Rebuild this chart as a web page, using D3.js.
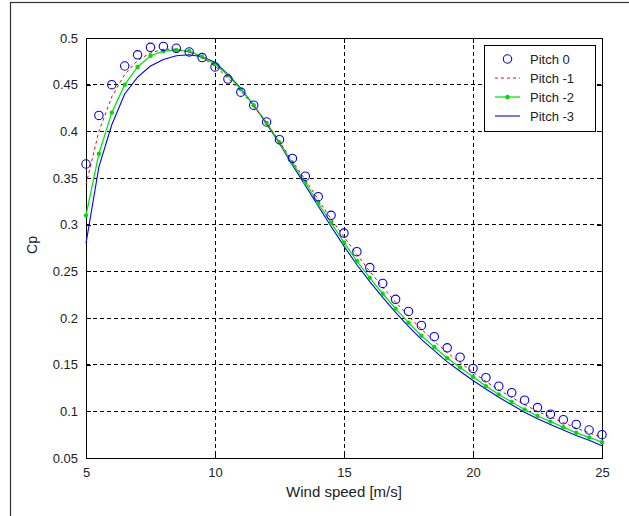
<!DOCTYPE html>
<html>
<head>
<meta charset="utf-8">
<script src="https://cdn.jsdelivr.net/npm/d3@7/dist/d3.min.js"></script>
<style>
  html, body { margin: 0; padding: 0; background: #fff; }
  svg { display: block; }
  text { font-family: "Liberation Sans", Arial, Helvetica, sans-serif; fill: #222; }
</style>
</head>
<body>
<svg id="chart" width="629" height="516"></svg>
<script>
// Wind speed samples (m/s)
const windSpeed = [5, 5.5, 6, 6.5, 7, 7.5, 8, 8.5, 9, 9.5,
  10, 10.5, 11, 11.5, 12, 12.5, 13, 13.5, 14, 14.5, 15,
  15.5, 16, 16.5, 17, 17.5, 18, 18.5, 19, 19.5, 20,
  20.5, 21, 21.5, 22, 22.5, 23, 23.5, 24, 24.5, 25];

// Power coefficient Cp for each pitch angle
const pitch0 = [0.365, 0.417, 0.450, 0.470, 0.482, 0.490, 0.491, 0.489, 0.485, 0.479,
  0.469, 0.456, 0.442, 0.428, 0.410, 0.391, 0.371, 0.352, 0.330, 0.310, 0.291,
  0.271, 0.254, 0.237, 0.220, 0.207, 0.192, 0.180, 0.168, 0.158, 0.146,
  0.136, 0.127, 0.120, 0.112, 0.104, 0.097, 0.091, 0.086, 0.080, 0.075];
const pitchM1 = [0.343, 0.400, 0.437, 0.461, 0.476, 0.484, 0.488, 0.488, 0.485, 0.479,
  0.470, 0.457, 0.443, 0.427, 0.409, 0.389, 0.368, 0.348, 0.327, 0.306, 0.287,
  0.268, 0.250, 0.233, 0.217, 0.202, 0.188, 0.175, 0.163, 0.152, 0.142,
  0.132, 0.123, 0.115, 0.107, 0.100, 0.094, 0.088, 0.082, 0.077, 0.072];
const pitchM2 = [0.310, 0.376, 0.420, 0.450, 0.469, 0.481, 0.486, 0.487, 0.486, 0.480,
  0.472, 0.460, 0.445, 0.428, 0.409, 0.388, 0.366, 0.345, 0.323, 0.302, 0.281,
  0.261, 0.243, 0.226, 0.210, 0.195, 0.181, 0.169, 0.157, 0.147, 0.137,
  0.127, 0.118, 0.110, 0.102, 0.095, 0.089, 0.083, 0.077, 0.072, 0.067];
const pitchM3 = [0.280, 0.362, 0.407, 0.440, 0.458, 0.470, 0.477, 0.481, 0.482, 0.480,
  0.474, 0.461, 0.446, 0.428, 0.408, 0.387, 0.364, 0.342, 0.320, 0.298, 0.277,
  0.257, 0.239, 0.222, 0.206, 0.191, 0.177, 0.165, 0.153, 0.143, 0.133,
  0.124, 0.115, 0.107, 0.099, 0.092, 0.086, 0.080, 0.074, 0.069, 0.063];

const seriesNames = ["Pitch 0", "Pitch -1", "Pitch -2", "Pitch -3"];
const xTicks = [5, 10, 15, 20, 25];
const yTicks = [0.05, 0.1, 0.15, 0.2, 0.25, 0.3, 0.35, 0.4, 0.45, 0.5];
const yTickLabels = ["0.05", "0.1", "0.15", "0.2", "0.25", "0.3", "0.35", "0.4", "0.45", "0.5"];

const svg = d3.select("#chart");
const plotLeft = 86, plotRight = 602, plotTop = 38, plotBottom = 458;

// Outer figure frame
svg.append("rect")
  .attr("x", 10.5).attr("y", 2.5)
  .attr("width", 640).attr("height", 540)
  .attr("fill", "#fff").attr("stroke", "#333").attr("stroke-width", 1.2);

const x = d3.scaleLinear().domain([5, 25]).range([plotLeft, plotRight]);
const y = d3.scaleLinear().domain([0.05, 0.5]).range([plotBottom, plotTop]);

const g = svg.append("g");

// Dashed grid
g.append("g").selectAll("line").data(xTicks.slice(1, -1)).join("line")
  .attr("x1", d => x(d)).attr("x2", d => x(d))
  .attr("y1", plotTop).attr("y2", plotBottom)
  .attr("stroke", "#000").attr("stroke-width", 1).attr("stroke-dasharray", "4,3")
  .attr("shape-rendering", "crispEdges");
g.append("g").selectAll("line").data(yTicks.slice(1, -1)).join("line")
  .attr("x1", plotLeft).attr("x2", plotRight)
  .attr("y1", d => y(d)).attr("y2", d => y(d))
  .attr("stroke", "#000").attr("stroke-width", 1).attr("stroke-dasharray", "4,3")
  .attr("shape-rendering", "crispEdges");

// Axes with inward ticks on all four sides
const tickLen = 5;
const xAxisB = d3.axisBottom(x).tickValues(xTicks).tickSizeInner(-tickLen).tickSizeOuter(0).tickPadding(10);
const xAxisT = d3.axisTop(x).tickValues(xTicks).tickSizeInner(-tickLen).tickSizeOuter(0).tickFormat("");
const yAxisL = d3.axisLeft(y).tickValues(yTicks).tickSizeInner(-tickLen).tickSizeOuter(0).tickPadding(8)
  .tickFormat((d, i) => yTickLabels[i]);
const yAxisR = d3.axisRight(y).tickValues(yTicks).tickSizeInner(-tickLen).tickSizeOuter(0).tickFormat("");

function styleAxis(sel) {
  sel.selectAll("path").remove();
  sel.selectAll("line").attr("stroke", "#000").attr("shape-rendering", "crispEdges");
  sel.selectAll("text").attr("font-size", 13).attr("fill", "#222")
    .style("font-family", "'Liberation Sans', Arial, sans-serif");
}
g.append("g").attr("transform", `translate(0,${plotBottom})`).call(xAxisB).call(styleAxis);
g.append("g").attr("transform", `translate(0,${plotTop})`).call(xAxisT).call(styleAxis);
g.append("g").attr("transform", `translate(${plotLeft},0)`).call(yAxisL).call(styleAxis);
g.append("g").attr("transform", `translate(${plotRight},0)`).call(yAxisR).call(styleAxis);

// Axes box
g.append("rect")
  .attr("x", plotLeft).attr("y", plotTop).attr("width", plotRight - plotLeft).attr("height", plotBottom - plotTop)
  .attr("fill", "none").attr("stroke", "#000").attr("stroke-width", 1)
  .attr("shape-rendering", "crispEdges");

// Curves
const line = d3.line().x(d => x(d[0])).y(d => y(d[1]));
const pairs = arr => windSpeed.map((w, i) => [w, arr[i]]);
const plot = g.append("g");

plot.append("path").datum(pairs(pitchM3)).attr("d", line)
  .attr("fill", "none").attr("stroke", "#0000ff").attr("stroke-width", 1.1);
plot.append("path").datum(pairs(pitchM2)).attr("d", line)
  .attr("fill", "none").attr("stroke", "#00ee00").attr("stroke-width", 1.3);
plot.append("g").selectAll("circle").data(pairs(pitchM2)).join("circle")
  .attr("cx", d => x(d[0])).attr("cy", d => y(d[1])).attr("r", 2.2)
  .attr("fill", "#00dd00");
plot.append("path").datum(pairs(pitchM1)).attr("d", line)
  .attr("fill", "none").attr("stroke", "#ff0000").attr("stroke-width", 1)
  .attr("stroke-dasharray", "3,3");
plot.append("g").selectAll("circle").data(pairs(pitch0)).join("circle")
  .attr("cx", d => x(d[0])).attr("cy", d => y(d[1])).attr("r", 4.2)
  .attr("fill", "none").attr("stroke", "#0000ff").attr("stroke-width", 1.1);

// Axis titles
svg.append("text").attr("x", (plotLeft + plotRight) / 2).attr("y", 497)
  .attr("text-anchor", "middle").attr("font-size", 15).text("Wind speed [m/s]");
svg.append("text").attr("transform", "translate(37,245) rotate(-90)")
  .attr("text-anchor", "middle").attr("font-size", 14).text("Cp");

// Legend
const lg = svg.append("g");
lg.append("rect").attr("x", 484.5).attr("y", 45.5).attr("width", 111).attr("height", 86)
  .attr("fill", "#fff").attr("stroke", "#000").attr("stroke-width", 1);
const rowY = i => 59 + i * 19;
const sx1 = 495, sx2 = 520;
lg.selectAll("text").data(seriesNames).join("text")
  .attr("x", 530).attr("y", (d, i) => rowY(i) + 5)
  .attr("font-size", 13).text(d => d);
lg.append("circle").attr("cx", (sx1 + sx2) / 2).attr("cy", rowY(0)).attr("r", 4.2)
  .attr("fill", "none").attr("stroke", "#0000ff").attr("stroke-width", 1.1);
lg.append("line").attr("x1", sx1).attr("x2", sx2).attr("y1", rowY(1)).attr("y2", rowY(1))
  .attr("stroke", "#ff0000").attr("stroke-dasharray", "3,3");
lg.append("line").attr("x1", sx1).attr("x2", sx2).attr("y1", rowY(2)).attr("y2", rowY(2))
  .attr("stroke", "#00ee00").attr("stroke-width", 1.3);
lg.append("circle").attr("cx", (sx1 + sx2) / 2).attr("cy", rowY(2)).attr("r", 2.2).attr("fill", "#00dd00");
lg.append("line").attr("x1", sx1).attr("x2", sx2).attr("y1", rowY(3)).attr("y2", rowY(3))
  .attr("stroke", "#0000ff").attr("stroke-width", 1.1);
</script>
</body>
</html>
